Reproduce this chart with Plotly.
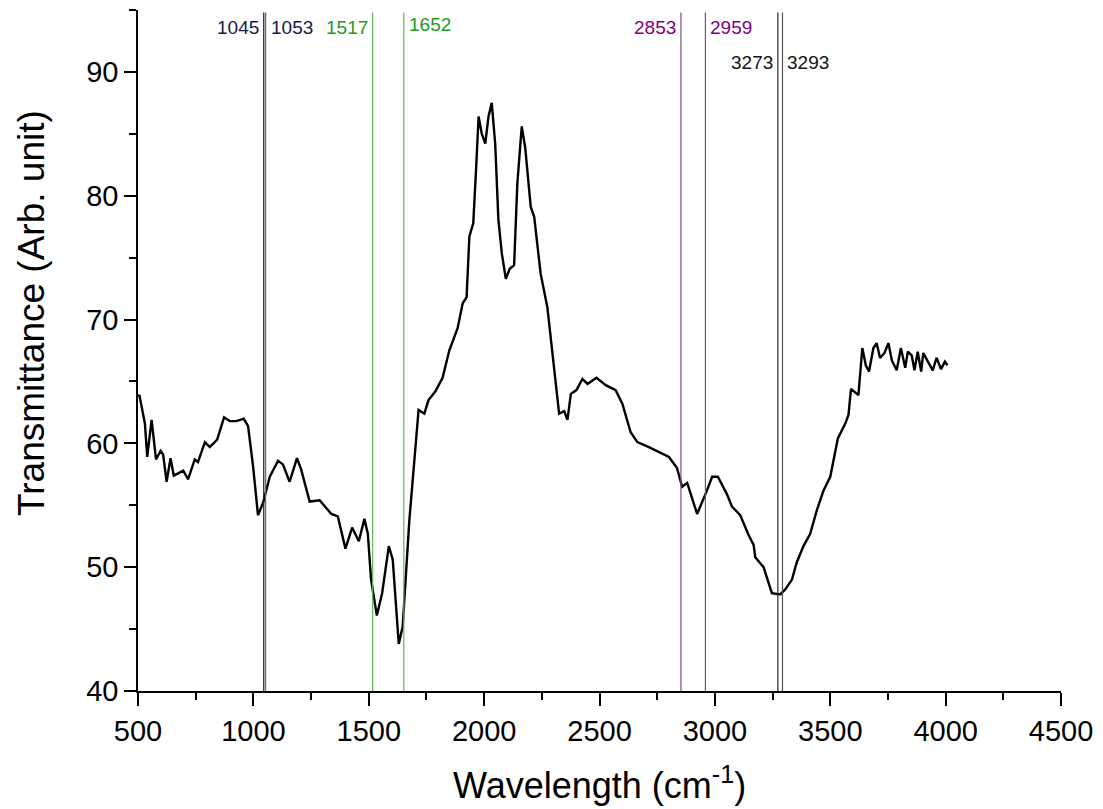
import plotly.graph_objects as go

# ---- data ----
wavenumber = [500, 506, 530, 540, 559, 578, 598, 609, 624, 641,
              655, 696, 717, 746, 760, 790, 811, 843, 873, 898,
              927, 958, 977, 999, 1020, 1042, 1071, 1107, 1128, 1157,
              1189, 1207, 1244, 1287, 1338, 1366, 1399, 1428, 1457, 1481,
              1496, 1510, 1535, 1558, 1587, 1604, 1630, 1647, 1676, 1698,
              1716, 1741, 1759, 1789, 1820, 1849, 1885, 1907, 1924, 1936,
              1953, 1965, 1976, 1990, 2005, 2019, 2033, 2048, 2062, 2077,
              2094, 2111, 2130, 2144, 2163, 2178, 2202, 2217, 2245, 2274,
              2288, 2307, 2325, 2347, 2361, 2376, 2400, 2426, 2448, 2487,
              2527, 2570, 2599, 2635, 2664, 2714, 2757, 2801, 2836, 2858,
              2880, 2923, 2966, 2988, 3013, 3052, 3074, 3110, 3146, 3168,
              3175, 3211, 3247, 3283, 3305, 3334, 3355, 3384, 3413, 3442,
              3471, 3500, 3533, 3565, 3579, 3590, 3622, 3639, 3654, 3668,
              3687, 3701, 3716, 3735, 3752, 3767, 3788, 3806, 3825, 3836,
              3853, 3865, 3879, 3894, 3903, 3925, 3944, 3961, 3980, 3997,
              4008]
transmittance = [63.8, 63.9, 61.6, 58.9, 61.9, 58.7, 59.4, 59.1, 56.9, 58.8,
                 57.4, 57.8, 57.1, 58.7, 58.5, 60.1, 59.7, 60.3, 62.1, 61.8,
                 61.8, 62.0, 61.4, 58.1, 54.2, 55.2, 57.3, 58.6, 58.3, 56.9,
                 58.8, 57.9, 55.3, 55.4, 54.3, 54.1, 51.5, 53.2, 52.1, 53.9,
                 52.7, 49.0, 46.1, 47.9, 51.7, 50.6, 43.8, 45.2, 53.8, 58.4,
                 62.7, 62.4, 63.5, 64.2, 65.3, 67.5, 69.3, 71.3, 71.8, 76.7,
                 77.8, 82.1, 86.4, 85.0, 84.2, 86.4, 87.5, 84.2, 78.0, 75.3,
                 73.3, 74.1, 74.4, 81.0, 85.6, 83.9, 79.1, 78.3, 73.7, 71.0,
                 68.6, 65.4, 62.4, 62.6, 61.9, 64.0, 64.3, 65.2, 64.8, 65.3,
                 64.7, 64.3, 63.2, 60.9, 60.1, 59.7, 59.3, 58.9, 58.0, 56.5,
                 56.8, 54.3, 56.2, 57.3, 57.3, 55.9, 54.9, 54.2, 52.6, 51.8,
                 50.8, 50.0, 47.9, 47.8, 48.2, 49.0, 50.4, 51.7, 52.7, 54.6,
                 56.2, 57.3, 60.4, 61.6, 62.3, 64.4, 63.9, 67.7, 66.3, 65.8,
                 67.7, 68.1, 66.9, 67.3, 68.1, 66.7, 65.9, 67.7, 66.1, 67.4,
                 67.1, 65.9, 67.4, 65.8, 67.3, 66.6, 65.9, 66.9, 66.0, 66.6,
                 66.3]

peaks = [1045, 1053, 1517, 1652, 2853, 2959, 3273, 3293]
peak_labels = ["1045", "1053", "1517", "1652", "2853", "2959", "3273", "3293"]

x_ticks = [500, 1000, 1500, 2000, 2500, 3000, 3500, 4000, 4500]
y_ticks = [40, 50, 60, 70, 80, 90]

# ---- styles ----
FONT = "Liberation Sans, Arial, sans-serif"
line_colors = ["#1a1a1a", "#6a6a6a", "#5cb85c", "#5cb85c", "#7b4f7b", "#7b4f7b", "#2a2a2a", "#555555"]
text_colors = ["#1a1a4a", "#1a1a4a", "#1e9a1e", "#1e9a1e", "#800080", "#800080", "#111111", "#111111"]
label_side = ["left", "right", "left", "right", "left", "right", "left", "right"]
label_y = [93.6, 93.6, 93.6, 93.8, 93.6, 93.6, 90.8, 90.8]

fig = go.Figure()
fig.add_trace(go.Scatter(x=wavenumber, y=transmittance, mode="lines",
                         line=dict(color="black", width=2.4), showlegend=False,
                         hoverinfo="skip"))

shapes = []
annotations = []
for p, lab, lc, tc, side, ly in zip(peaks, peak_labels, line_colors, text_colors, label_side, label_y):
    shapes.append(dict(type="line", xref="x", yref="y", x0=p, x1=p, y0=40, y1=94.8,
                       line=dict(color=lc, width=1.2)))
    annotations.append(dict(x=p, y=ly, xref="x", yref="y", text=lab, showarrow=False,
                            xanchor="right" if side == "left" else "left",
                            xshift=-3 if side == "left" else 3,
                            font=dict(family=FONT, size=19, color=tc)))

annotations.append(dict(text="Transmittance (Arb. unit)", xref="paper", yref="paper",
                        x=-0.116, y=0.555, showarrow=False, textangle=-90,
                        xanchor="center", yanchor="middle",
                        font=dict(family=FONT, size=37, color="black")))
annotations.append(dict(text="Wavelength (cm<sup>-1</sup>)", xref="paper", yref="paper",
                        x=0.5, y=-0.135, showarrow=False,
                        xanchor="center", yanchor="middle",
                        font=dict(family=FONT, size=36, color="black")))

fig.update_layout(
    width=1103, height=809,
    margin=dict(l=138, r=38, t=10, b=118),
    paper_bgcolor="white", plot_bgcolor="white",
    shapes=shapes, annotations=annotations,
    xaxis=dict(range=[500, 4500], tickvals=x_ticks, ticks="outside", ticklen=13, tickwidth=1.5,
               tickcolor="black", showline=True, linecolor="black", linewidth=1.5,
               showgrid=False, zeroline=False,
               tickfont=dict(family=FONT, size=29, color="black"),
               minor=dict(ticks="outside", ticklen=7, dtick=250, tick0=500, tickcolor="black", tickwidth=1.5, showgrid=False)),
    yaxis=dict(range=[40, 95], tickvals=y_ticks, ticks="outside", ticklen=12, tickwidth=1.5,
               tickcolor="black", showline=True, linecolor="black", linewidth=1.5,
               showgrid=False, zeroline=False,
               tickfont=dict(family=FONT, size=29, color="black"),
               minor=dict(ticks="outside", ticklen=7, dtick=5, tick0=40, tickcolor="black", tickwidth=1.5, showgrid=False)),
)

fig.write_html("out.html")
